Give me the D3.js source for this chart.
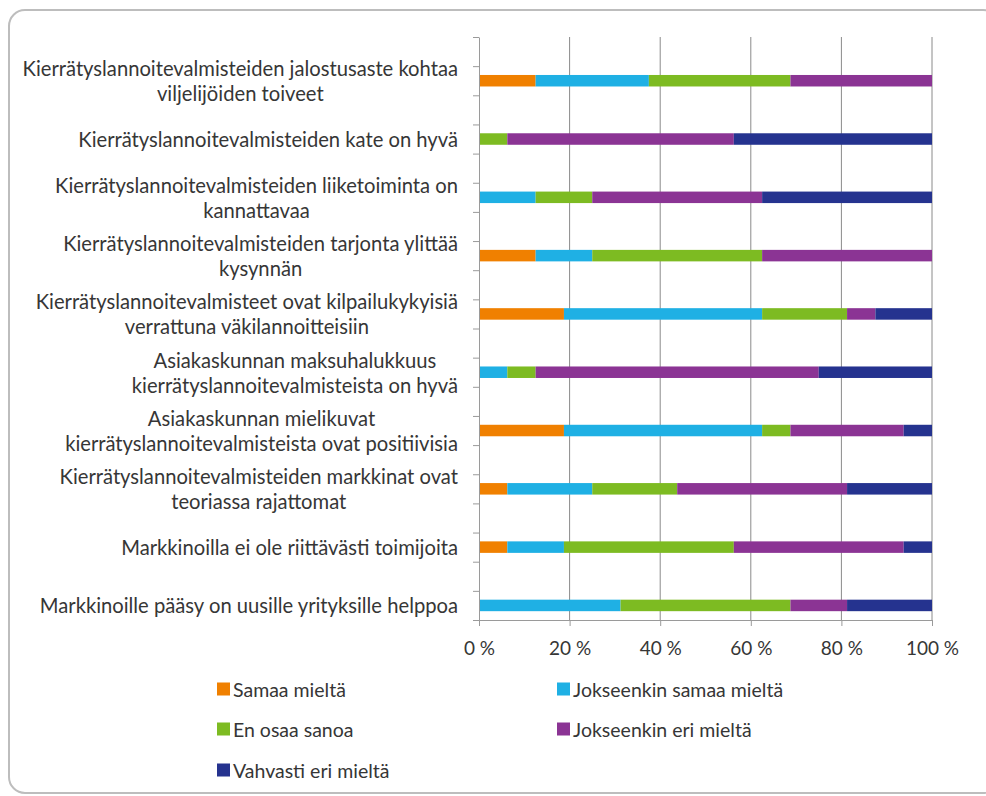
<!DOCTYPE html>
<html>
<head>
<meta charset="utf-8">
<script src="https://cdn.jsdelivr.net/npm/d3@7"></script>
<style>
  html, body { margin: 0; padding: 0; background: #fff; }
  svg { display: block; }
  text { font-family: Lato, "Open Sans", sans-serif; fill: #363636; }
</style>
</head>
<body>
<svg id="chart" width="986" height="796"></svg>
<script>
// Statements (line breaks as they wrap in the label column)
const categories = [
  "Kierrätyslannoitevalmisteiden jalostusaste kohtaa\nviljelijöiden toiveet",
  "Kierrätyslannoitevalmisteiden kate on hyvä",
  "Kierrätyslannoitevalmisteiden liiketoiminta on\nkannattavaa",
  "Kierrätyslannoitevalmisteiden tarjonta ylittää\nkysynnän",
  "Kierrätyslannoitevalmisteet ovat kilpailukykyisiä\nverrattuna väkilannoitteisiin",
  "Asiakaskunnan maksuhalukkuus\nkierrätyslannoitevalmisteista on hyvä",
  "Asiakaskunnan mielikuvat\nkierrätyslannoitevalmisteista ovat positiivisia",
  "Kierrätyslannoitevalmisteiden markkinat ovat\nteoriassa rajattomat",
  "Markkinoilla ei ole riittävästi toimijoita",
  "Markkinoille pääsy on uusille yrityksille helppoa"
];

// Answer shares, % of respondents
const samaaMielta          = [12.5, 0, 0, 12.5, 18.75, 0, 18.75, 6.25, 6.25, 0];
const jokseenkinSamaa      = [25, 0, 12.5, 12.5, 43.75, 6.25, 43.75, 18.75, 12.5, 31.25];
const enOsaaSanoa          = [31.25, 6.25, 12.5, 37.5, 18.75, 6.25, 6.25, 18.75, 37.5, 37.5];
const jokseenkinEri        = [31.25, 50, 37.5, 37.5, 6.25, 62.5, 25, 37.5, 37.5, 12.5];
const vahvastiEri          = [0, 43.75, 37.5, 0, 12.5, 25, 6.25, 18.75, 6.25, 18.75];

const seriesNames = ["Samaa mieltä", "Jokseenkin samaa mieltä", "En osaa sanoa",
                     "Jokseenkin eri mieltä", "Vahvasti eri mieltä"];
const seriesValues = [samaaMielta, jokseenkinSamaa, enOsaaSanoa, jokseenkinEri, vahvastiEri];
const seriesColors = ["#f08000", "#1fb0e4", "#7dbb22", "#8b3494", "#25338f"];

const xTicks = [0, 20, 40, 60, 80, 100];

const svg = d3.select("#chart");

// Frame around the chart object
svg.append("rect")
  .attr("x", 9).attr("y", 10)
  .attr("width", 990).attr("height", 783)
  .attr("rx", 16).attr("ry", 16)
  .attr("fill", "none")
  .attr("stroke", "#bdbdbd")
  .attr("stroke-width", 2);

const plot = { left: 479, right: 932, top: 37, bottom: 620 };

const x = d3.scaleLinear().domain([0, 100]).range([plot.left, plot.right]);
// 20 axis slots: each statement sits in every second slot
const ySlot = d3.scaleLinear().domain([0, 20]).range([plot.top, plot.bottom]);
const y = d3.scalePoint().domain(categories).range([ySlot(1.5), ySlot(19.5)]);
const barH = 11.5;

// Stacked table
const table = categories.map((c, i) => {
  const row = { category: c };
  seriesNames.forEach((s, k) => { row[s] = seriesValues[k][i]; });
  return row;
});
const stacked = d3.stack().keys(seriesNames)(table);

// Vertical gridlines
svg.append("g")
  .selectAll("line")
  .data(xTicks.filter(d => d > 0))
  .join("line")
  .attr("x1", d => x(d)).attr("x2", d => x(d))
  .attr("y1", plot.top).attr("y2", plot.bottom)
  .attr("stroke", "#8a8a8a")
  .attr("stroke-width", 1);

// Bars
svg.append("g")
  .selectAll("g")
  .data(stacked)
  .join("g")
  .attr("fill", (d, k) => seriesColors[k])
  .selectAll("rect")
  .data(d => d)
  .join("rect")
  .attr("x", d => x(d[0]))
  .attr("width", d => x(d[1]) - x(d[0]))
  .attr("y", d => y(d.data.category) - barH / 2)
  .attr("height", barH);

// Category axis (ticks only)
const yAxis = svg.append("g")
  .attr("transform", `translate(${plot.left},0)`)
  .call(d3.axisLeft(ySlot).tickValues(d3.range(21)).tickSize(6).tickFormat("").tickSizeOuter(0));
yAxis.selectAll("path, line").attr("stroke", "#9a9a9a");

// Value axis
const xAxis = svg.append("g")
  .attr("transform", `translate(0,${plot.bottom})`)
  .call(d3.axisBottom(x).tickValues(xTicks).tickSize(6).tickSizeOuter(0)
        .tickFormat(d => d + " %"));
xAxis.selectAll("path, line").attr("stroke", "#9a9a9a");
xAxis.selectAll("text")
  .attr("y", 22)
  .style("font-size", "19px")
  .style("font-family", "Lato, 'Open Sans', sans-serif")
  .attr("fill", "#363636");

// Category labels: each block right-aligned to the axis, lines centred in the block
const labelRight = 458;
const lineGap = 25;
const labels = svg.append("g").style("font-size", "20.2px");
categories.forEach(c => {
  const lines = c.split("\n");
  const t = labels.append("text").attr("text-anchor", "middle").attr("dominant-baseline", "central");
  const spans = lines.map((ln, j) =>
    t.append("tspan")
      .attr("y", y(c) + (j - (lines.length - 1) / 2) * lineGap)
      .text(ln));
  const w = d3.max(spans, s => s.node().getComputedTextLength());
  spans.forEach(s => s.attr("x", labelRight - w / 2));
});

// Legend
const legendCols = [217, 557];
const legendRows = [689, 729, 770];
const legend = svg.append("g").style("font-size", "19.5px");
seriesNames.forEach((s, k) => {
  const lx = legendCols[k % 2];
  const ly = legendRows[Math.floor(k / 2)];
  legend.append("rect")
    .attr("x", lx).attr("y", ly - 6.5)
    .attr("width", 13).attr("height", 13)
    .attr("fill", seriesColors[k]);
  legend.append("text")
    .attr("x", lx + 16).attr("y", ly)
    .attr("dominant-baseline", "central")
    .text(s);
});
</script>
</body>
</html>
